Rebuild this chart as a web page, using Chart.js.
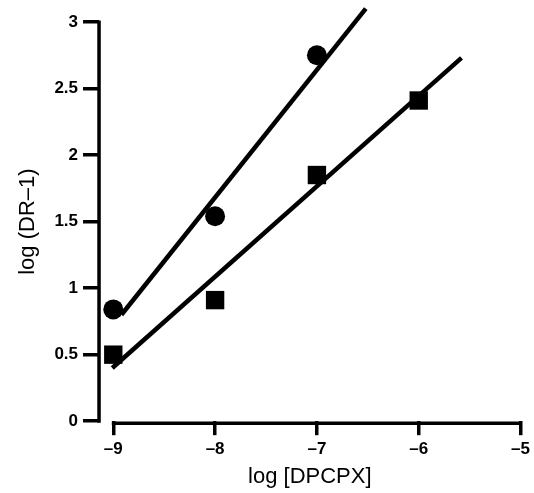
<!DOCTYPE html>
<html>
<head>
<meta charset="utf-8">
<script src="https://cdn.jsdelivr.net/npm/chart.js@4/dist/chart.umd.min.js"></script>
<style>
    html, body { margin: 0; padding: 0; background: #fff; }
</style>
</head>
<body>
<canvas id="j_schild" width="534" height="493"></canvas>
<script>
// pontos medidos
var circuloX = [-9, -8, -7];
var circuloY = [0.84, 1.54, 2.75];
var quadradoX = [-9, -8, -7, -6];
var quadradoY = [0.50, 0.91, 1.85, 2.41];

// retas de regressao (extremos)
var retaCirculoX = [-8.92, -6.52];
var retaCirculoY = [0.80, 3.10];
var retaQuadradoX = [-9.01, -5.58];
var retaQuadradoY = [0.40, 2.73];

var ticksX = [-9, -8, -7, -6, -5];
var ticksY = [0, 0.5, 1, 1.5, 2, 2.5, 3];

function pares(xs, ys) {
    return xs.map(function (v, i) {
        return { x: v, y: ys[i] };
    });
}

function rotulo(value) {
    var s = String(value);
    return s.charAt(0) === "-" ? "\u2013" + s.slice(1) : s;
}

// eixos desenhados a parte: o eixo x comeca em -9, solto do eixo y
var eixos = {
    id: "eixos",
    beforeDatasetsDraw: function (chart) {
        var ctx = chart.ctx;
        var sx = chart.scales.x;
        var sy = chart.scales.y;
        ctx.save();
        ctx.strokeStyle = "#000";
        ctx.lineWidth = 3.5;
        ctx.beginPath();
        ctx.moveTo(sx.left, sy.getPixelForValue(3) - 1.5);
        ctx.lineTo(sx.left, sy.getPixelForValue(0) + 1.5);
        var yb = sy.bottom + 2;
        ctx.moveTo(sx.getPixelForValue(-9) - 1.5, yb);
        ctx.lineTo(sx.getPixelForValue(-5) + 1.5, yb);
        ctx.stroke();
        ctx.restore();
    },
};

var fonte = "'Liberation Sans', Arial, sans-serif";

new Chart(document.getElementById("j_schild"), {
    type: "scatter",
    data: {
        datasets: [
            {
                label: "reta circulos",
                data: pares(retaCirculoX, retaCirculoY),
                showLine: true,
                pointRadius: 0,
                borderColor: "#000",
                borderWidth: 4.5,
                clip: false,
            },
            {
                label: "reta quadrados",
                data: pares(retaQuadradoX, retaQuadradoY),
                showLine: true,
                pointRadius: 0,
                borderColor: "#000",
                borderWidth: 4.5,
                clip: false,
            },
            {
                label: "circulos",
                data: pares(circuloX, circuloY),
                pointStyle: "circle",
                pointRadius: 10,
                backgroundColor: "#000",
                borderColor: "#000",
                borderWidth: 0,
                clip: false,
            },
            {
                label: "quadrados",
                data: pares(quadradoX, quadradoY),
                pointStyle: "rect",
                pointRadius: 13,
                backgroundColor: "#000",
                borderColor: "#000",
                borderWidth: 0,
                clip: false,
            },
        ],
    },
    options: {
        responsive: false,
        animation: false,
        layout: {
            padding: { top: 22, right: 6, left: 15, bottom: 3 },
        },
        plugins: {
            legend: { display: false },
            tooltip: { enabled: false },
        },
        scales: {
            x: {
                type: "linear",
                min: -9.14,
                max: -5,
                afterBuildTicks: function (scale) {
                    scale.ticks = ticksX.map(function (v) {
                        return { value: v };
                    });
                },
                border: { display: false },
                grid: {
                    drawOnChartArea: false,
                    drawTicks: true,
                    tickLength: 14,
                    color: "#000",
                    lineWidth: 3.5,
                },
                ticks: {
                    color: "#000",
                    padding: 4,
                    maxRotation: 0,
                    font: { family: fonte, size: 17, weight: "bold" },
                    callback: rotulo,
                },
                title: {
                    display: true,
                    text: "log [DPCPX]",
                    color: "#000",
                    font: { family: fonte, size: 22 },
                    padding: { top: 0, bottom: 0 },
                },
            },
            y: {
                type: "linear",
                min: 0,
                max: 3,
                afterBuildTicks: function (scale) {
                    scale.ticks = ticksY.map(function (v) {
                        return { value: v };
                    });
                },
                border: { display: false },
                grid: {
                    drawOnChartArea: false,
                    drawTicks: true,
                    tickLength: 16,
                    color: "#000",
                    lineWidth: 3.5,
                },
                ticks: {
                    color: "#000",
                    padding: 5,
                    font: { family: fonte, size: 17, weight: "bold" },
                    callback: rotulo,
                },
                title: {
                    display: true,
                    text: "log (DR\u20131)",
                    color: "#000",
                    font: { family: fonte, size: 22 },
                    padding: { top: 0, bottom: 8 },
                },
            },
        },
    },
    plugins: [eixos],
});
</script>
</body>
</html>
